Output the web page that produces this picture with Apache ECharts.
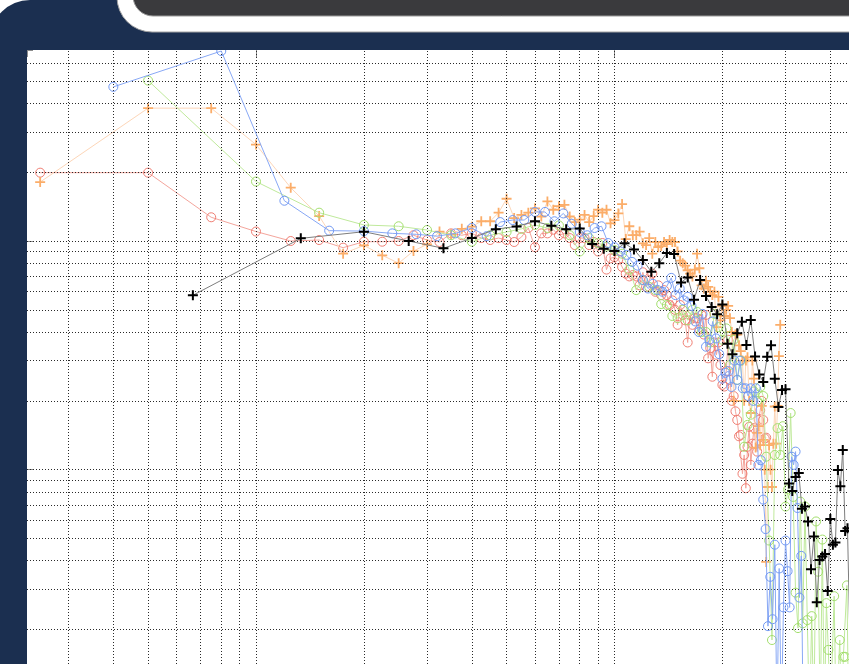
<!DOCTYPE html>
<html><head><meta charset="utf-8">
<script src="https://cdn.jsdelivr.net/npm/echarts@6/dist/echarts.min.js"></script>
<style>html,body{margin:0;padding:0;background:#fff;}#c{width:849px;height:664px;}</style>
</head><body><div id="c"></div>
<script>
// frequency bin spacing of each series
const redStep = 2.5, orangeStep = 2.5, blueStep = 4, greenStep = 5, blackStep = 20 / 3;

const redVals = [1.99, 1.99, 1.27, 1.10, 1.00, 1.01, 0.935, 0.993, 0.993, 1.00,
 1.06, 1.01, 0.99, 1.08, 1.06, 1.08, 1.03, 1.01, 1.03, 1.01,
 0.99, 1.04, 1.14, 0.94, 1.08, 1.08, 1.12, 1.06, 1.08, 1.03,
 0.96, 1.03, 1.03, 0.96, 0.99, 0.90, 0.98, 0.75, 0.84, 0.85,
 0.83, 0.77, 0.72, 0.70, 0.71, 0.70, 0.64, 0.73, 0.63, 0.675,
 0.72, 0.60, 0.64, 0.58, 0.61, 0.58, 0.525, 0.55, 0.50, 0.43,
 0.525, 0.475, 0.45, 0.36, 0.475, 0.43, 0.46, 0.46, 0.41, 0.475,
 0.39, 0.475, 0.307, 0.34, 0.255, 0.36, 0.318, 0.36, 0.287, 0.235,
 0.231, 0.27, 0.37, 0.247, 0.20, 0.21, 0.18, 0.165, 0.14, 0.142,
 0.096, 0.116, 0.083, 0.126, 0.154, 0.105, 0.13, 0.152, 0.13, 0.12,
 0.165, 0.182, 0.20, 0.165, 0.137, 0.138];

const orangeVals = [1.81, 3.81, 3.81, 2.64, 1.71, 1.285, 0.88, 0.957, 0.866, 0.80,
 0.904, 0.967, 1.10, 1.07, 1.13, 1.155, 1.22, 1.22, 1.33, 1.53,
 1.26, 1.30, 1.33, 1.39, 1.28, 1.49, 1.37, 1.42, 1.44, 1.28,
 1.21, 1.24, 1.30, 1.21, 1.285, 1.37, 1.33, 1.37, 1.195, 1.235,
 1.32, 1.45, 1.02, 1.16, 1.06, 1.06, 1.10, 0.977, 0.96, 1.03,
 0.88, 0.99, 0.94, 0.95, 0.99, 0.97, 1.01, 0.99, 0.99, 0.90,
 0.82, 0.80, 0.78, 0.745, 0.72, 0.70, 0.75, 0.88, 0.76, 0.64,
 0.62, 0.67, 0.63, 0.60, 0.58, 0.60, 0.42, 0.57, 0.45, 0.52,
 0.47, 0.50, 0.52, 0.46, 0.40, 0.20, 0.39, 0.39, 0.35, 0.33,
 0.30, 0.20, 0.30, 0.31, 0.20, 0.177, 0.30, 0.25, 0.125, 0.145,
 0.155, 0.128, 0.19, 0.135, 0.10, 0.0395, 0.084, 0.128, 0.10, 0.084,
 0.13, 0.189, 0.13, 0.19, 0.314, 0.43];

const blueVals = [4.72, 6.77, 1.50, 1.11, 1.105, 1.08, 1.07, 1.05, 1.08, 1.14,
 1.05, 1.21, 1.235, 1.235, 1.34, 1.34, 1.22, 1.32, 1.19, 1.095,
 1.06, 1.14, 1.16, 0.98, 0.94, 0.90, 0.87, 0.81, 0.78, 0.675,
 0.62, 0.65, 0.61, 0.60, 0.635, 0.69, 0.58, 0.62, 0.55, 0.57,
 0.52, 0.445, 0.40, 0.48, 0.345, 0.37, 0.445, 0.375, 0.32, 0.25,
 0.265, 0.27, 0.23, 0.30, 0.247, 0.30, 0.227, 0.227, 0.21, 0.227,
 0.20, 0.227, 0.105, 0.11, 0.074, 0.055, 0.0207, 0.034, 0.0222, 0.047,
 0.008, 0.037, 0.008, 0.025, 0.049, 0.036, 0.025, 0.114, 0.105, 0.12,
 0.068, 0.0276, 0.042, 0.008];

const greenVals = [5.03, 1.82, 1.33, 1.175, 1.16, 1.117, 1.06, 0.993, 1.06, 1.095,
 1.13, 1.175, 1.14, 1.17, 1.06, 0.90, 1.03, 0.98, 0.945, 0.913,
 0.88, 0.75, 0.61, 0.675, 0.63, 0.61, 0.53, 0.525, 0.47, 0.46,
 0.50, 0.45, 0.50, 0.49, 0.40, 0.40, 0.36, 0.48, 0.42, 0.37,
 0.415, 0.287, 0.37, 0.247, 0.30, 0.126, 0.157, 0.174, 0.22, 0.20,
 0.23, 0.21, 0.114, 0.049, 0.018, 0.116, 0.152, 0.116, 0.155, 0.069,
 0.082, 0.177, 0.076, 0.029, 0.0203, 0.0725, 0.0213, 0.069, 0.022, 0.008,
 0.0229, 0.008, 0.0594, 0.0358, 0.008, 0.0495, 0.008, 0.0261, 0.0163, 0.008,
 0.008, 0.028, 0.008, 0.008, 0.018, 0.008, 0.0152, 0.0152, 0.0312, 0.008];

const blackVals = [0.579, 1.027, 1.098, 1.0, 0.929, 1.03, 1.126, 1.158, 1.22, 1.165,
 1.125, 1.134, 0.97, 0.925, 0.904, 0.977, 0.918, 0.826, 0.734, 0.80,
 0.886, 0.877, 0.659, 0.693, 0.554, 0.675, 0.575, 0.515, 0.478, 0.528,
 0.355, 0.32, 0.395, 0.444, 0.351, 0.451, 0.313, 0.261, 0.242, 0.312,
 0.35, 0.25, 0.188, 0.223, 0.225, 0.087, 0.0808, 0.0929, 0.0967, 0.0675,
 0.069, 0.0594, 0.0367, 0.0511, 0.0263, 0.0403, 0.0417, 0.0428, 0.0295, 0.0609,
 0.047, 0.048, 0.0997, 0.0847, 0.122, 0.0539, 0.0554, 0.019];

// grid lines (log decades with 2..9 subdivisions)
const xGridVals = [3, 4, 5, 6, 7, 8, 9, 10, 20, 30, 40, 50, 60, 70, 80, 90, 100, 200, 300, 400];
const yGridVals = [0.02, 0.03, 0.04, 0.05, 0.06, 0.07, 0.08, 0.09, 0.1, 0.2, 0.3, 0.4, 0.5, 0.6, 0.7, 0.8, 0.9, 1, 2, 3, 4, 5, 6];

// visible axis window
const xMin = 2.2973, xMax = 451.0;
const yMin = 0.01414, yMax = 6.842;

const NAVY = '#1b2f50';
const PLUS_BOLD = 'path://M4,0h2v10h-2z M0,4h10v2h-10z';
const PLUS = 'path://M4.1,0h1.8v10h-1.8z M0,4.1h10v1.8h-10z';

function pts(step, vals) { return vals.map((v, i) => [step * (i + 1), v]); }

function dataSeries(name, step, vals, symbol, markColor, lineColor, z) {
  const isPlus = symbol !== 'circle';
  return {
    name, type: 'line', data: pts(step, vals), z,
    symbol: isPlus ? symbol : 'circle',
    symbolSize: isPlus ? 10 : 9,
    showAllSymbol: true,
    clip: true,
    itemStyle: isPlus ? { color: markColor } : { color: 'rgba(0,0,0,0)', borderColor: markColor, borderWidth: 1 },
    lineStyle: { color: lineColor, width: 1 },
    emphasis: { disabled: true },
    silent: true
  };
}

const chart = echarts.init(document.getElementById('c'), null, { renderer: 'canvas' });
chart.setOption({
  animation: false,
  backgroundColor: '#fff',
  grid: { left: 27, top: 50, right: 0, bottom: 0, containLabel: false, show: true, backgroundColor: '#fff', borderWidth: 0 },
  xAxis: {
    type: 'log', logBase: 10, min: xMin, max: xMax, position: 'top',
    axisLine: { show: false },
    axisTick: { show: true, inside: true, length: 7, lineStyle: { color: '#8c8c8c', width: 1 } },
    axisLabel: { show: false },
    splitLine: { show: false }
  },
  yAxis: {
    type: 'log', logBase: 10, min: yMin, max: yMax, position: 'left',
    axisLine: { show: false },
    axisTick: { show: true, inside: true, length: 6, lineStyle: { color: '#8c8c8c', width: 1 } },
    axisLabel: { show: false },
    splitLine: { show: false }
  },
  graphic: [
    { type: 'rect', z: 100, silent: true, shape: { x: -10, y: 0, width: 870, height: 50, r: [40, 0, 0, 0] }, style: { fill: NAVY } },
    { type: 'rect', z: 100, silent: true, shape: { x: -10, y: 30, width: 37, height: 640 }, style: { fill: NAVY } },
    { type: 'rect', z: 101, silent: true, shape: { x: 117, y: -3, width: 800, height: 35, r: [0, 0, 0, 35] }, style: { fill: '#fff', stroke: '#a3a3a3', lineWidth: 1 } },
    { type: 'rect', z: 102, silent: true, shape: { x: 133, y: -24, width: 800, height: 40, r: [0, 0, 0, 20] }, style: { fill: '#3a3a3d', stroke: '#9a9a9a', lineWidth: 1 } }
  ],
  series: [
    {
      type: 'line', data: [[10, 1]], symbol: 'none', lineStyle: { width: 0 }, z: 1, silent: true,
      markLine: {
        silent: true, symbol: 'none', label: { show: false }, animation: false,
        lineStyle: { type: [1, 2], color: '#2a2a2a', width: 1 },
        emphasis: { disabled: true },
        data: xGridVals.map(v => ({ xAxis: v })).concat(yGridVals.map(v => ({ yAxis: v })))
      }
    },
    dataSeries('red', redStep, redVals, 'circle', '#f07e73', '#f4a59c', 2),
    dataSeries('orange', orangeStep, orangeVals, PLUS, '#fbad69', '#fdd6b8', 3),
    dataSeries('green', greenStep, greenVals, 'circle', '#a3df6d', '#bfe99b', 4),
    dataSeries('blue', blueStep, blueVals, 'circle', '#7299f3', '#88a8f5', 5),
    dataSeries('black', blackStep, blackVals, PLUS_BOLD, '#000000', '#7d7d7d', 6)
  ]
});
</script>
</body></html>
